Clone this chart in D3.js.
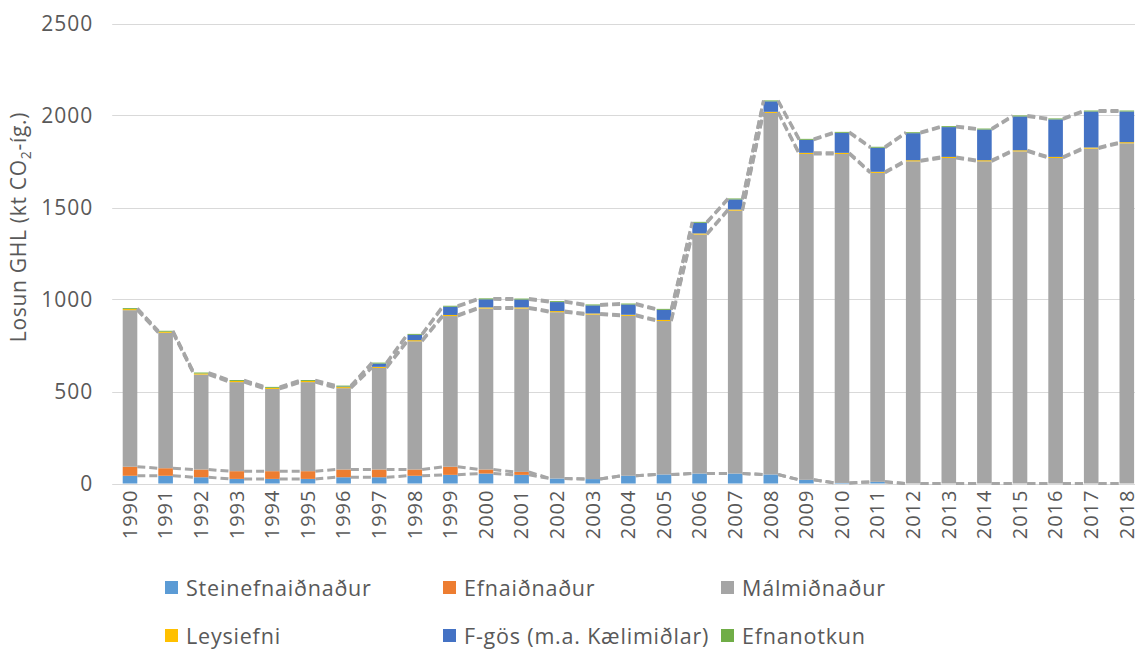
<!DOCTYPE html>
<html><head><meta charset="utf-8">
<script src="https://cdn.jsdelivr.net/npm/d3@7"></script>
<style>
body{margin:0;background:#fff;overflow:hidden}
text{font-family:"Open Sans",Lato,sans-serif;fill:#595959}
</style>
</head><body>
<svg id="c" width="1135" height="649"></svg>
<script>
const years = ["1990","1991","1992","1993","1994","1995","1996","1997","1998","1999","2000","2001","2002","2003","2004","2005","2006","2007","2008","2009","2010","2011","2012","2013","2014","2015","2016","2017","2018"];
const steinefnaidnadur = [42,42,34,25,25,25,34,34,42,47,54,47,27,24,42,49,54,54,49,20,3,9,0,0,0,0,0,0,0];
const efnaidnadur = [49,41,42,42,42,42,42,42,34,44,22,16,0,0,0,0,0,0,0,0,0,0,0,0,0,0,0,0,0];
const malmidnadur = [851,736,516,484,447,484,442,552,697,819,875,888,904,894,869,834,1299,1429,1965,1771,1788,1679,1751,1769,1751,1805,1769,1820,1849];
const leysiefni = [6,6,6,6,6,6,6,6,6,6,6,6,6,6,6,6,6,6,6,6,6,6,6,6,6,6,6,6,6];
const fgos = [0,0,0,0,0,0,3,18,29,45,44,43,49,44,56,55,58,55,57,71,109,131,147,162,167,184,204,196,167];
const efnanotkun = [5,5,5,5,5,5,5,5,5,5,5,5,5,5,5,5,5,5,5,5,5,5,5,5,5,5,5,5,5];
const seriesNames = ["Steinefnaiðnaður","Efnaiðnaður","Málmiðnaður","Leysiefni","F-gös (m.a. Kælimiðlar)","Efnanotkun"];
const seriesColors = ["#5B9BD5","#ED7D31","#A5A5A5","#FFC000","#4472C4","#70AD47"];
const yTicks = [0,500,1000,1500,2000,2500];

const seriesValues = [steinefnaidnadur, efnaidnadur, malmidnadur, leysiefni, fgos, efnanotkun];
const rows = years.map((yr,i)=>{ const r={year:yr}; seriesNames.forEach((n,k)=>r[n]=seriesValues[k][i]); return r; });
const stacked = d3.stack().keys(seriesNames)(rows);

const svg = d3.select("#c");
const left = 112.2, step = 35.6;
const x = d3.scaleBand().domain(years).range([left, left+step*years.length]).paddingInner(0.59).paddingOuter(0.295);
const y = d3.scaleLinear().domain([0,2500]).range([483.5,23.5]);
const bw = x.bandwidth();

// gridlines
svg.append("g").selectAll("line").data(yTicks).join("line")
  .attr("x1",left).attr("x2",1135)
  .attr("y1",d=>Math.round(y(d))+0.5).attr("y2",d=>Math.round(y(d))+0.5)
  .attr("stroke","#D9D9D9").attr("stroke-width",1);

// y axis labels
const ya = svg.append("g").attr("transform",`translate(${left},0)`)
  .call(d3.axisLeft(y).tickValues(yTicks).tickSize(0).tickPadding(19).tickFormat(d3.format("d")));
ya.select(".domain").remove();
ya.selectAll("text").style("font-size","21px").style("font-family","'Open Sans'").style("letter-spacing","1px").attr("fill","#595959");

// bars
svg.append("g").selectAll("g").data(stacked).join("g")
  .attr("fill",(d,i)=>seriesColors[i])
  .selectAll("rect").data(d=>d).join("rect")
  .attr("x",d=>x(d.data.year)).attr("width",bw)
  .attr("y",d=>y(d[1])).attr("height",d=>Math.max(0,y(d[0])-y(d[1])));

// series lines
const segs = [];
stacked.forEach(layer=>{
  for(let i=0;i<layer.length-1;i++){
    segs.push({x1:x(years[i])+bw, y1:y(layer[i][1]), x2:x(years[i+1]), y2:y(layer[i+1][1])});
  }
});
svg.append("g").selectAll("line").data(segs).join("line")
  .attr("x1",d=>d.x1).attr("y1",d=>d.y1).attr("x2",d=>d.x2).attr("y2",d=>d.y2)
  .attr("stroke","#A6A6A6").attr("stroke-width",3).attr("stroke-dasharray","8,4");

// x axis
const xa = svg.append("g").attr("transform",`translate(0,${y(0)})`)
  .call(d3.axisBottom(x).tickSize(0).tickPadding(0));
xa.select(".domain").remove();
xa.selectAll("text")
  .style("font-size","20px").style("font-family","'Open Sans'").style("letter-spacing","1px").attr("fill","#595959")
  .attr("text-anchor","end")
  .attr("transform","rotate(-90)")
  .attr("x",-6).attr("y",0).attr("dy","0.34em");

// y title
const t = svg.append("text")
  .attr("transform","translate(26,227) rotate(-90)")
  .attr("text-anchor","middle")
  .style("font-size","21px").style("letter-spacing","0.7px");
t.append("tspan").text("Losun GHL (kt CO");
t.append("tspan").text("2").style("font-size","14px").attr("dy","5");
t.append("tspan").text("-íg.)").attr("dy","-5");

// legend
const legX = [165,443,721], legY = [588,636];
const leg = svg.append("g").selectAll("g").data(seriesNames).join("g")
  .attr("transform",(d,i)=>`translate(${legX[i%3]},${legY[Math.floor(i/3)]})`);
leg.append("rect").attr("x",0).attr("y",-7).attr("width",13).attr("height",13).attr("fill",(d,i)=>seriesColors[i]);
leg.append("text").attr("x",21).attr("y",0).attr("dy","0.36em").style("font-size","21.5px").style("letter-spacing","0.8px").text(d=>d);
</script>
</body></html>
